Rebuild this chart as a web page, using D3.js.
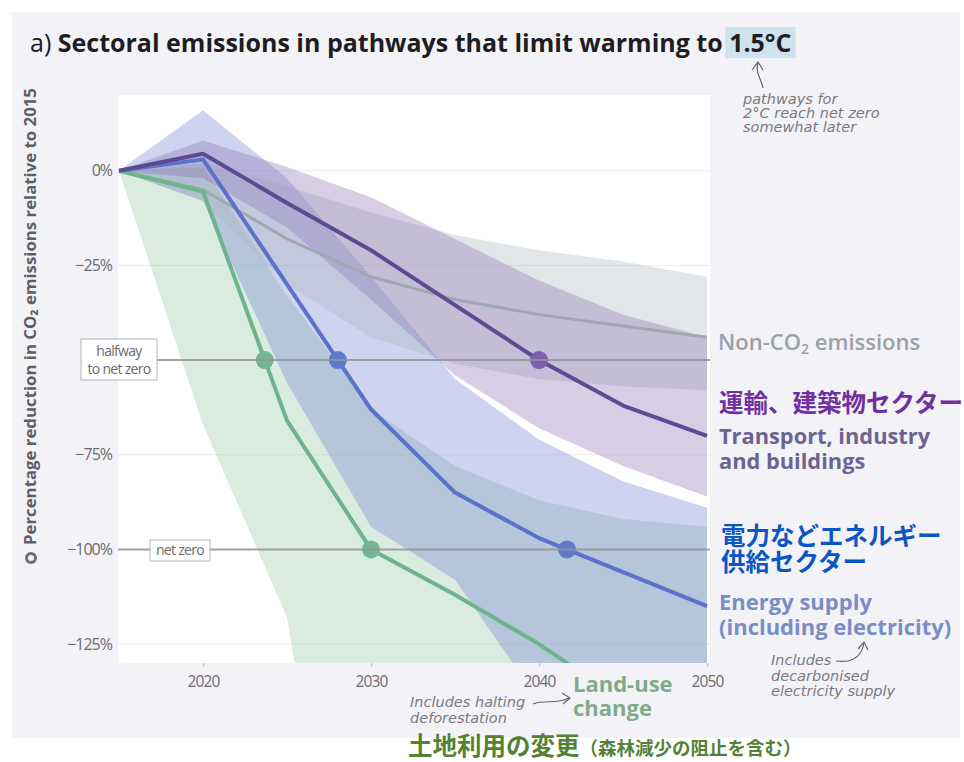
<!DOCTYPE html>
<html>
<head>
<meta charset="utf-8">
<script src="https://cdn.jsdelivr.net/npm/d3@7.9.0/dist/d3.min.js"></script>
<style>
  body { margin: 0; background: #fff; }
  svg { display: block; font-family: "Open Sans", "Noto Sans", sans-serif; }
  .hand { font-family: "DejaVu Sans", sans-serif; font-style: italic; fill: #7a7a80; font-size: 14.5px; }
</style>
</head>
<body>
<svg id="chart" width="964" height="762"></svg>
<script>
// years sampled every 5 years, values in % change of CO2 emissions vs 2015
const years = [2015, 2020, 2025, 2030, 2035, 2040, 2045, 2050];

const nonCO2Mid  = [0, -5, -18, -28, -34, -38, -41, -44];
const nonCO2High = [0, 2, -4, -11, -17, -21, -24, -28];
const nonCO2Low  = [0, -8, -30, -44, -51, -55, -57, -58];

const transportMid  = [0, 4.5, -8.5, -21, -35.5, -50, -62, -70];
const transportHigh = [0, 8, 1, -7, -18, -29, -38, -44];
const transportLow  = [0, -2, -15, -34, -54, -68, -78, -86];

const energyMid  = [0, 3, -30, -63, -85, -97, -106, -115];
const energyHigh = [0, 16, -2, -28, -55, -71, -82, -89];
const energyLow  = [0, -8, -56, -94, -108, -140, -170, -190];

const landMid  = [0, -5.5, -66, -100, -112, -125, -140, -150];
const landHigh = [0, 1, -33, -63, -78, -87, -92, -94];
const landLow  = [0, -67, -118, -250, -250, -250, -250, -250];

const yTicks = [0, -25, -75, -100, -125];
const xTicks = [2020, 2030, 2040, 2050];
const milestones = [-50, -100];

const svg = d3.select('#chart');

const plot = { left: 118, right: 710, top: 95, bottom: 663 };
const x = d3.scaleLinear().domain([2015, 2050]).range([119, 707]);
const y = d3.scaleLinear().domain([20, -130]).range([plot.top, plot.bottom]);

// panel + plot background
svg.append('rect').attr('x', 12).attr('y', 12).attr('width', 948).attr('height', 726).attr('fill', '#f3f3f7');
svg.append('rect').attr('x', plot.left).attr('y', plot.top)
  .attr('width', plot.right - plot.left).attr('height', plot.bottom - plot.top).attr('fill', '#fff');

svg.append('clipPath').attr('id', 'clip').append('rect')
  .attr('x', plot.left).attr('y', plot.top)
  .attr('width', plot.right - plot.left).attr('height', plot.bottom - plot.top);

// gridlines
svg.append('g').selectAll('line')
  .data(yTicks.filter(d => d !== -100))
  .join('line')
  .attr('x1', plot.left).attr('x2', plot.right)
  .attr('y1', d => y(d)).attr('y2', d => y(d))
  .attr('stroke', '#ececf1').attr('stroke-width', 1);

function rows(mid, low, high) {
  return years.map((yr, i) => ({ year: yr, mid: mid[i], low: low[i], high: high[i] }));
}

const series = [
  { key: 'land', data: rows(landMid, landLow, landHigh), band: '#8cc09e', bandOp: 0.32, line: '#6db48d', lw: 4, dot: '#73b792' },
  { key: 'energy', data: rows(energyMid, energyLow, energyHigh), band: '#6f7fd2', bandOp: 0.34, line: '#5a72c8', lw: 4, dot: '#6079c9' },
  { key: 'nonco2', data: rows(nonCO2Mid, nonCO2Low, nonCO2High), band: '#a9b0b9', bandOp: 0.32, line: '#a2a8b2', lw: 3, dot: null },
  { key: 'transport', data: rows(transportMid, transportLow, transportHigh), band: '#8a6fb2', bandOp: 0.34, line: '#5c4a93', lw: 4, dot: '#7a60ad' },
];

const area = d3.area().x(d => x(d.year)).y0(d => y(d.low)).y1(d => y(d.high));
const line = d3.line().x(d => x(d.year)).y(d => y(d.mid));

const g = svg.append('g').attr('clip-path', 'url(#clip)');

g.append('g').selectAll('path')
  .data(series)
  .join('path')
  .attr('d', d => area(d.data))
  .attr('fill', d => d.band)
  .attr('fill-opacity', d => d.bandOp);

// reference lines: halfway and net zero
svg.append('line')
  .attr('x1', 157).attr('x2', plot.right)
  .attr('y1', y(-50)).attr('y2', y(-50))
  .attr('stroke', '#8f9499').attr('stroke-width', 2).attr('stroke-opacity', 0.85);
svg.append('line')
  .attr('x1', plot.left).attr('x2', plot.right)
  .attr('y1', y(-100)).attr('y2', y(-100))
  .attr('stroke', '#8f9499').attr('stroke-width', 2).attr('stroke-opacity', 0.85);

const lineOrder = [series[2], series[0], series[1], series[3]];
g.append('g').selectAll('path')
  .data(lineOrder)
  .join('path')
  .attr('d', d => line(d.data))
  .attr('fill', 'none')
  .attr('stroke', d => d.line)
  .attr('stroke-width', d => d.lw)
  .attr('stroke-linejoin', 'round');

// year where a median path first crosses a milestone
function crossing(data, target) {
  for (let i = 0; i < data.length - 1; i++) {
    const a = data[i], b = data[i + 1];
    if (a.mid >= target && b.mid <= target && a.mid !== b.mid) {
      return a.year + (b.year - a.year) * (a.mid - target) / (a.mid - b.mid);
    }
  }
  return null;
}

const dots = [];
series.filter(s => s.dot).forEach(s => {
  milestones.forEach(m => {
    const yr = crossing(s.data, m);
    if (yr !== null) dots.push({ year: yr, value: m, color: s.dot });
  });
});

g.append('g').selectAll('circle')
  .data(dots)
  .join('circle')
  .attr('cx', d => x(d.year))
  .attr('cy', d => y(d.value))
  .attr('r', 9)
  .attr('fill', d => d.color);

// y axis
const yAxis = svg.append('g')
  .attr('transform', `translate(${plot.left},0)`)
  .call(d3.axisLeft(y).tickValues(yTicks).tickSize(0).tickPadding(6)
    .tickFormat(d => d === 0 ? '0%' : '\u2212' + Math.abs(d) + '%'));
yAxis.select('.domain').remove();
yAxis.selectAll('text').attr('fill', '#6b6b70').attr('font-size', 16)
  .attr('font-family', '"Open Sans", sans-serif').attr('letter-spacing', -1);

// x axis
const xAxis = svg.append('g')
  .attr('transform', `translate(0,${plot.bottom})`)
  .call(d3.axisBottom(x).tickValues(xTicks).tickSize(4).tickPadding(9).tickFormat(d3.format('d')));
xAxis.select('.domain').remove();
xAxis.selectAll('line').attr('stroke', '#c8c8cc');
xAxis.selectAll('text').attr('fill', '#6b6b70').attr('font-size', 15.5)
  .attr('font-family', '"Open Sans", sans-serif').attr('letter-spacing', -0.8);

// labelled boxes
const half = svg.append('g');
half.append('rect').attr('x', 81).attr('y', 339).attr('width', 76).attr('height', 41)
  .attr('fill', '#fff').attr('stroke', '#b5b5ba');
half.append('text').attr('x', 119).attr('y', 356).attr('text-anchor', 'middle')
  .attr('font-size', 14).attr('fill', '#6b6b70').attr('letter-spacing', -0.7).text('halfway');
half.append('text').attr('x', 119).attr('y', 374).attr('text-anchor', 'middle')
  .attr('font-size', 14).attr('fill', '#6b6b70').attr('letter-spacing', -0.7).text('to net zero');

const nz = svg.append('g');
nz.append('rect').attr('x', 150).attr('y', 540).attr('width', 60).attr('height', 21)
  .attr('fill', '#fff').attr('stroke', '#b5b5ba');
nz.append('text').attr('x', 180).attr('y', 555).attr('text-anchor', 'middle')
  .attr('font-size', 14).attr('fill', '#6b6b70').attr('letter-spacing', -0.7).text('net zero');

// y axis title
svg.append('text')
  .attr('transform', 'translate(36,545) rotate(-90)')
  .attr('font-size', 16.8).attr('font-weight', 700).attr('fill', '#5e5e64')
  .text('Percentage reduction in CO\u2082 emissions relative to 2015');
svg.append('circle').attr('cx', 31).attr('cy', 558).attr('r', 6).attr('fill', '#6e6e74');
svg.append('circle').attr('cx', 31).attr('cy', 558).attr('r', 3).attr('fill', '#f3f3f7');

// title
const title = svg.append('text').attr('x', 30).attr('y', 52).attr('font-size', 25).attr('fill', '#1e1e22');
title.append('tspan').attr('font-weight', 400).text('a) ');
title.append('tspan').attr('font-weight', 700).text('Sectoral emissions in pathways that limit warming to ');
title.append('tspan').attr('font-weight', 700).text('1.5\u00b0C');
const full = title.text();
const i0 = full.indexOf('1.5');
const tn = title.node();
const hx0 = tn.getStartPositionOfChar(i0).x;
const hx1 = tn.getEndPositionOfChar(full.length - 1).x;
svg.insert('rect', () => tn)
  .attr('x', hx0 - 4).attr('y', 27).attr('width', hx1 - hx0 + 8).attr('height', 31)
  .attr('fill', '#cfe3ef');

// annotation under title
svg.append('path').attr('d', 'M763,88 C761,78 755,73 758,62').attr('fill', 'none').attr('stroke', '#666').attr('stroke-width', 1.2);
svg.append('path').attr('d', 'M752,70 L758,62 L763,70').attr('fill', 'none').attr('stroke', '#666').attr('stroke-width', 1.2);
const ann = svg.append('text').attr('class', 'hand');
['pathways for', '2\u00b0C reach net zero', 'somewhat later'].forEach((t, i) => {
  ann.append('tspan').attr('x', 743).attr('y', 104 + i * 14).text(t);
});

// right labels
svg.append('text').attr('x', 718).attr('y', 350).attr('font-size', 22).attr('font-weight', 600)
  .attr('fill', '#9aa0a9')
  .html('Non-CO<tspan font-size="14" dy="4">2</tspan><tspan dy="-4"> emissions</tspan>');

svg.append('text').attr('x', 719).attr('y', 412).attr('font-size', 24.5).attr('font-weight', 700)
  .attr('font-family', '"Noto Sans CJK JP", sans-serif').attr('fill', '#7030a0')
  .text('運輸、建築物セクター');

const tr = svg.append('text').attr('font-size', 21.8).attr('font-weight', 700).attr('fill', '#6c6391');
tr.append('tspan').attr('x', 719).attr('y', 444).text('Transport, industry');
tr.append('tspan').attr('x', 719).attr('y', 469).text('and buildings');

const jpE = svg.append('text').attr('font-size', 24.5).attr('font-weight', 700)
  .attr('font-family', '"Noto Sans CJK JP", sans-serif').attr('fill', '#0b55c4');
jpE.append('tspan').attr('x', 721).attr('y', 545).text('電力などエネルギー');
jpE.append('tspan').attr('x', 721).attr('y', 571).text('供給セクター');

const en = svg.append('text').attr('font-size', 22).attr('font-weight', 700).attr('fill', '#7a8ec6');
en.append('tspan').attr('x', 719).attr('y', 610).text('Energy supply');
en.append('tspan').attr('x', 719).attr('y', 635).text('(including electricity)');

const incE = svg.append('text').attr('class', 'hand').attr('font-size', 15);
['Includes', 'decarbonised', 'electricity supply'].forEach((t, i) => {
  incE.append('tspan').attr('x', 771).attr('y', 665 + i * 15.5).text(t);
});
svg.append('path').attr('d', 'M836,661 C850,663 861,659 864,643').attr('fill', 'none').attr('stroke', '#666').attr('stroke-width', 1.2);
svg.append('path').attr('d', 'M858,649 L864,642 L868,650').attr('fill', 'none').attr('stroke', '#666').attr('stroke-width', 1.2);

const lu = svg.append('text').attr('font-size', 22).attr('font-weight', 700).attr('fill', '#7fab8c');
lu.append('tspan').attr('x', 573).attr('y', 692).text('Land-use');
lu.append('tspan').attr('x', 573).attr('y', 716).text('change');

const incL = svg.append('text').attr('class', 'hand');
['Includes halting', 'deforestation'].forEach((t, i) => {
  incL.append('tspan').attr('x', 410).attr('y', 707 + i * 15.5).text(t);
});
svg.append('path').attr('d', 'M533,704 C545,699 556,705 569,698').attr('fill', 'none').attr('stroke', '#666').attr('stroke-width', 1.2);
svg.append('path').attr('d', 'M562,693 L570,698 L563,704').attr('fill', 'none').attr('stroke', '#666').attr('stroke-width', 1.2);

// bottom japanese caption
const cap = svg.append('text').attr('x', 408).attr('y', 755)
  .attr('font-family', '"Noto Sans CJK JP", sans-serif').attr('font-weight', 700).attr('fill', '#548235');
cap.append('tspan').attr('font-size', 24.5).text('土地利用の変更');
cap.append('tspan').attr('font-size', 18.5).text('（森林減少の阻止を含む）');
</script>
</body>
</html>
